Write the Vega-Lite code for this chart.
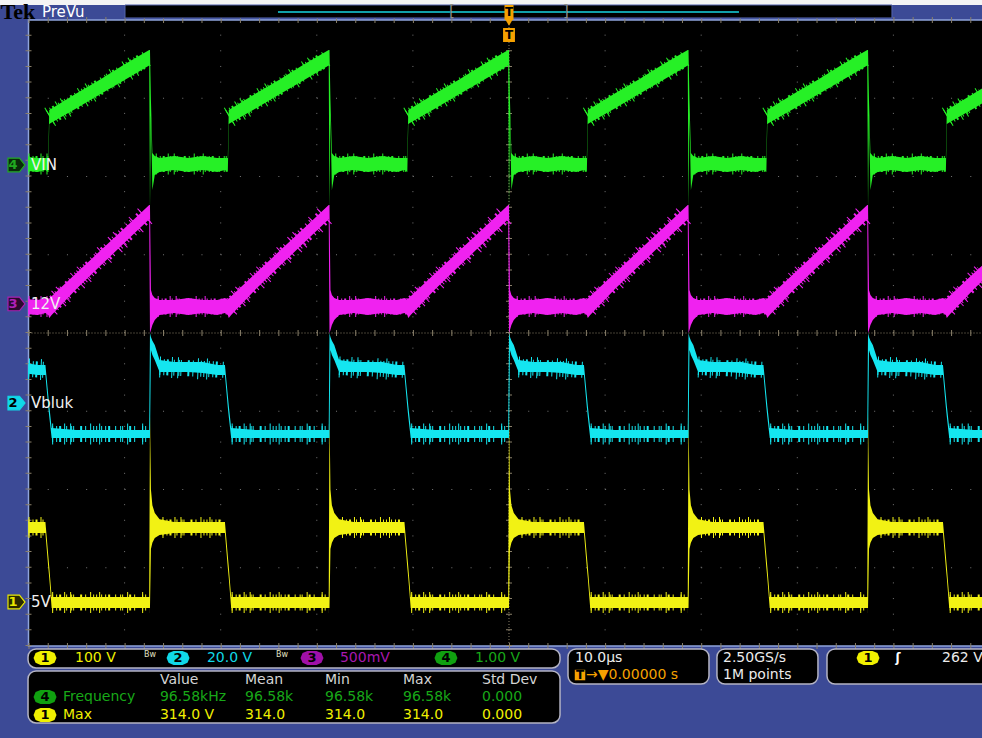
{
"$schema":"https://vega.github.io/schema/vega-lite/v6.json",
"width":982,"height":738,
"autosize":"none",
"padding":0,
"background":"#3c4a96",
"config":{"view":{"stroke":null},"font":"DejaVu Sans"},
"resolve":{"scale":{"color":"independent","fill":"independent","stroke":"independent"}},
"datasets":{
"tr":[
{"x":-50,"gl":2.07,"gh":2.25,"ml":0.24,"mh":0.43,"cl":-0.52,"ch":-0.39,"yl":-2.556,"yh":-2.415},
{"x":-49.04,"gl":2.058,"gh":2.236,"ml":0.23,"mh":0.422,"cl":-0.537,"ch":-0.409,"yl":-2.556,"yh":-2.415},
{"x":-48.24,"gl":2.083,"gh":2.236,"ml":0.256,"mh":0.447,"cl":-0.537,"ch":-0.409,"yl":-2.556,"yh":-2.415},
{"x":-47.94,"gl":2.058,"gh":2.236,"ml":0.23,"mh":0.422,"cl":-0.95,"ch":-0.8,"yl":-3,"yh":-2.85},
{"x":-47.84,"gl":2.67,"gh":2.85,"ml":0.192,"mh":0.44,"cl":-1.07,"ch":-0.93,"yl":-3.13,"yh":-2.99},
{"x":-47.59,"gl":2.69,"gh":2.87,"ml":0.23,"mh":0.469,"cl":-1.342,"ch":-1.214,"yl":-3.514,"yh":-3.374},
{"x":-45.04,"gl":2.87,"gh":3.06,"ml":0.56,"mh":0.762,"cl":-1.342,"ch":-1.24,"yl":-3.514,"yh":-3.374},
{"x":-42.54,"gl":3.05,"gh":3.24,"ml":0.855,"mh":1.05,"cl":-1.342,"ch":-1.24,"yl":-3.514,"yh":-3.374},
{"x":-40.04,"gl":3.23,"gh":3.43,"ml":1.15,"mh":1.337,"cl":-1.342,"ch":-1.24,"yl":-3.514,"yh":-3.374},
{"x":-37.44,"gl":3.42,"gh":3.617,"ml":1.455,"mh":1.636,"cl":-1.342,"ch":-1.24,"yl":-3.514,"yh":-3.374},
{"x":-37.36,"gl":1.572,"gh":3.617,"ml":0,"mh":1.636,"cl":-1.342,"ch":0,"yl":-3.514,"yh":-1.022},
{"x":-37.26,"gl":2.786,"gh":2.978,"ml":0.038,"mh":0.55,"cl":-0.217,"ch":-0.051,"yl":-2.76,"yh":-2.0},
{"x":-37.11,"gl":1.827,"gh":2.3,"ml":0.102,"mh":0.486,"cl":-0.281,"ch":-0.1,"yl":-2.68,"yh":-2.2},
{"x":-36.86,"gl":2.019,"gh":2.262,"ml":0.166,"mh":0.447,"cl":-0.345,"ch":-0.153,"yl":-2.62,"yh":-2.3},
{"x":-36.36,"gl":2.058,"gh":2.236,"ml":0.23,"mh":0.422,"cl":-0.498,"ch":-0.345,"yl":-2.581,"yh":-2.38},
{"x":-34.86,"gl":2.083,"gh":2.262,"ml":0.256,"mh":0.422,"cl":-0.498,"ch":-0.371,"yl":-2.556,"yh":-2.415},
{"x":-33.36,"gl":2.058,"gh":2.236,"ml":0.23,"mh":0.447,"cl":-0.498,"ch":-0.371,"yl":-2.556,"yh":-2.415},
{"x":-31.86,"gl":2.083,"gh":2.262,"ml":0.256,"mh":0.422,"cl":-0.511,"ch":-0.371,"yl":-2.556,"yh":-2.415},
{"x":-30.36,"gl":2.058,"gh":2.236,"ml":0.23,"mh":0.422,"cl":-0.537,"ch":-0.409,"yl":-2.556,"yh":-2.415},
{"x":-29.56,"gl":2.083,"gh":2.236,"ml":0.256,"mh":0.447,"cl":-0.537,"ch":-0.409,"yl":-2.556,"yh":-2.415},
{"x":-29.26,"gl":2.058,"gh":2.236,"ml":0.23,"mh":0.422,"cl":-0.95,"ch":-0.8,"yl":-3,"yh":-2.85},
{"x":-29.16,"gl":2.67,"gh":2.85,"ml":0.192,"mh":0.44,"cl":-1.07,"ch":-0.93,"yl":-3.13,"yh":-2.99},
{"x":-28.91,"gl":2.69,"gh":2.87,"ml":0.23,"mh":0.469,"cl":-1.342,"ch":-1.214,"yl":-3.514,"yh":-3.374},
{"x":-26.36,"gl":2.87,"gh":3.06,"ml":0.56,"mh":0.762,"cl":-1.342,"ch":-1.24,"yl":-3.514,"yh":-3.374},
{"x":-23.86,"gl":3.05,"gh":3.24,"ml":0.855,"mh":1.05,"cl":-1.342,"ch":-1.24,"yl":-3.514,"yh":-3.374},
{"x":-21.36,"gl":3.23,"gh":3.43,"ml":1.15,"mh":1.337,"cl":-1.342,"ch":-1.24,"yl":-3.514,"yh":-3.374},
{"x":-18.76,"gl":3.42,"gh":3.617,"ml":1.455,"mh":1.636,"cl":-1.342,"ch":-1.24,"yl":-3.514,"yh":-3.374},
{"x":-18.68,"gl":1.572,"gh":3.617,"ml":0,"mh":1.636,"cl":-1.342,"ch":0,"yl":-3.514,"yh":-1.022},
{"x":-18.58,"gl":2.786,"gh":2.978,"ml":0.038,"mh":0.55,"cl":-0.217,"ch":-0.051,"yl":-2.76,"yh":-2.0},
{"x":-18.43,"gl":1.827,"gh":2.3,"ml":0.102,"mh":0.486,"cl":-0.281,"ch":-0.1,"yl":-2.68,"yh":-2.2},
{"x":-18.18,"gl":2.019,"gh":2.262,"ml":0.166,"mh":0.447,"cl":-0.345,"ch":-0.153,"yl":-2.62,"yh":-2.3},
{"x":-17.68,"gl":2.058,"gh":2.236,"ml":0.23,"mh":0.422,"cl":-0.498,"ch":-0.345,"yl":-2.581,"yh":-2.38},
{"x":-16.18,"gl":2.083,"gh":2.262,"ml":0.256,"mh":0.422,"cl":-0.498,"ch":-0.371,"yl":-2.556,"yh":-2.415},
{"x":-14.68,"gl":2.058,"gh":2.236,"ml":0.23,"mh":0.447,"cl":-0.498,"ch":-0.371,"yl":-2.556,"yh":-2.415},
{"x":-13.18,"gl":2.083,"gh":2.262,"ml":0.256,"mh":0.422,"cl":-0.511,"ch":-0.371,"yl":-2.556,"yh":-2.415},
{"x":-11.68,"gl":2.058,"gh":2.236,"ml":0.23,"mh":0.422,"cl":-0.537,"ch":-0.409,"yl":-2.556,"yh":-2.415},
{"x":-10.88,"gl":2.083,"gh":2.236,"ml":0.256,"mh":0.447,"cl":-0.537,"ch":-0.409,"yl":-2.556,"yh":-2.415},
{"x":-10.58,"gl":2.058,"gh":2.236,"ml":0.23,"mh":0.422,"cl":-0.95,"ch":-0.8,"yl":-3,"yh":-2.85},
{"x":-10.48,"gl":2.67,"gh":2.85,"ml":0.192,"mh":0.44,"cl":-1.07,"ch":-0.93,"yl":-3.13,"yh":-2.99},
{"x":-10.23,"gl":2.69,"gh":2.87,"ml":0.23,"mh":0.469,"cl":-1.342,"ch":-1.214,"yl":-3.514,"yh":-3.374},
{"x":-7.68,"gl":2.87,"gh":3.06,"ml":0.56,"mh":0.762,"cl":-1.342,"ch":-1.24,"yl":-3.514,"yh":-3.374},
{"x":-5.18,"gl":3.05,"gh":3.24,"ml":0.855,"mh":1.05,"cl":-1.342,"ch":-1.24,"yl":-3.514,"yh":-3.374},
{"x":-2.68,"gl":3.23,"gh":3.43,"ml":1.15,"mh":1.337,"cl":-1.342,"ch":-1.24,"yl":-3.514,"yh":-3.374},
{"x":-0.08,"gl":3.42,"gh":3.617,"ml":1.455,"mh":1.636,"cl":-1.342,"ch":-1.24,"yl":-3.514,"yh":-3.374},
{"x":0,"gl":1.572,"gh":3.617,"ml":0,"mh":1.636,"cl":-1.342,"ch":0,"yl":-3.514,"yh":-1.022},
{"x":0.1,"gl":2.786,"gh":2.978,"ml":0.038,"mh":0.55,"cl":-0.217,"ch":-0.051,"yl":-2.76,"yh":-2.0},
{"x":0.25,"gl":1.827,"gh":2.3,"ml":0.102,"mh":0.486,"cl":-0.281,"ch":-0.1,"yl":-2.68,"yh":-2.2},
{"x":0.5,"gl":2.019,"gh":2.262,"ml":0.166,"mh":0.447,"cl":-0.345,"ch":-0.153,"yl":-2.62,"yh":-2.3},
{"x":1,"gl":2.058,"gh":2.236,"ml":0.23,"mh":0.422,"cl":-0.498,"ch":-0.345,"yl":-2.581,"yh":-2.38},
{"x":2.5,"gl":2.083,"gh":2.262,"ml":0.256,"mh":0.422,"cl":-0.498,"ch":-0.371,"yl":-2.556,"yh":-2.415},
{"x":4,"gl":2.058,"gh":2.236,"ml":0.23,"mh":0.447,"cl":-0.498,"ch":-0.371,"yl":-2.556,"yh":-2.415},
{"x":5.5,"gl":2.083,"gh":2.262,"ml":0.256,"mh":0.422,"cl":-0.511,"ch":-0.371,"yl":-2.556,"yh":-2.415},
{"x":7,"gl":2.058,"gh":2.236,"ml":0.23,"mh":0.422,"cl":-0.537,"ch":-0.409,"yl":-2.556,"yh":-2.415},
{"x":7.8,"gl":2.083,"gh":2.236,"ml":0.256,"mh":0.447,"cl":-0.537,"ch":-0.409,"yl":-2.556,"yh":-2.415},
{"x":8.1,"gl":2.058,"gh":2.236,"ml":0.23,"mh":0.422,"cl":-0.95,"ch":-0.8,"yl":-3,"yh":-2.85},
{"x":8.2,"gl":2.67,"gh":2.85,"ml":0.192,"mh":0.44,"cl":-1.07,"ch":-0.93,"yl":-3.13,"yh":-2.99},
{"x":8.45,"gl":2.69,"gh":2.87,"ml":0.23,"mh":0.469,"cl":-1.342,"ch":-1.214,"yl":-3.514,"yh":-3.374},
{"x":11,"gl":2.87,"gh":3.06,"ml":0.56,"mh":0.762,"cl":-1.342,"ch":-1.24,"yl":-3.514,"yh":-3.374},
{"x":13.5,"gl":3.05,"gh":3.24,"ml":0.855,"mh":1.05,"cl":-1.342,"ch":-1.24,"yl":-3.514,"yh":-3.374},
{"x":16,"gl":3.23,"gh":3.43,"ml":1.15,"mh":1.337,"cl":-1.342,"ch":-1.24,"yl":-3.514,"yh":-3.374},
{"x":18.6,"gl":3.42,"gh":3.617,"ml":1.455,"mh":1.636,"cl":-1.342,"ch":-1.24,"yl":-3.514,"yh":-3.374},
{"x":18.68,"gl":1.572,"gh":3.617,"ml":0,"mh":1.636,"cl":-1.342,"ch":0,"yl":-3.514,"yh":-1.022},
{"x":18.78,"gl":2.786,"gh":2.978,"ml":0.038,"mh":0.55,"cl":-0.217,"ch":-0.051,"yl":-2.76,"yh":-2.0},
{"x":18.93,"gl":1.827,"gh":2.3,"ml":0.102,"mh":0.486,"cl":-0.281,"ch":-0.1,"yl":-2.68,"yh":-2.2},
{"x":19.18,"gl":2.019,"gh":2.262,"ml":0.166,"mh":0.447,"cl":-0.345,"ch":-0.153,"yl":-2.62,"yh":-2.3},
{"x":19.68,"gl":2.058,"gh":2.236,"ml":0.23,"mh":0.422,"cl":-0.498,"ch":-0.345,"yl":-2.581,"yh":-2.38},
{"x":21.18,"gl":2.083,"gh":2.262,"ml":0.256,"mh":0.422,"cl":-0.498,"ch":-0.371,"yl":-2.556,"yh":-2.415},
{"x":22.68,"gl":2.058,"gh":2.236,"ml":0.23,"mh":0.447,"cl":-0.498,"ch":-0.371,"yl":-2.556,"yh":-2.415},
{"x":24.18,"gl":2.083,"gh":2.262,"ml":0.256,"mh":0.422,"cl":-0.511,"ch":-0.371,"yl":-2.556,"yh":-2.415},
{"x":25.68,"gl":2.058,"gh":2.236,"ml":0.23,"mh":0.422,"cl":-0.537,"ch":-0.409,"yl":-2.556,"yh":-2.415},
{"x":26.48,"gl":2.083,"gh":2.236,"ml":0.256,"mh":0.447,"cl":-0.537,"ch":-0.409,"yl":-2.556,"yh":-2.415},
{"x":26.78,"gl":2.058,"gh":2.236,"ml":0.23,"mh":0.422,"cl":-0.95,"ch":-0.8,"yl":-3,"yh":-2.85},
{"x":26.88,"gl":2.67,"gh":2.85,"ml":0.192,"mh":0.44,"cl":-1.07,"ch":-0.93,"yl":-3.13,"yh":-2.99},
{"x":27.13,"gl":2.69,"gh":2.87,"ml":0.23,"mh":0.469,"cl":-1.342,"ch":-1.214,"yl":-3.514,"yh":-3.374},
{"x":29.68,"gl":2.87,"gh":3.06,"ml":0.56,"mh":0.762,"cl":-1.342,"ch":-1.24,"yl":-3.514,"yh":-3.374},
{"x":32.18,"gl":3.05,"gh":3.24,"ml":0.855,"mh":1.05,"cl":-1.342,"ch":-1.24,"yl":-3.514,"yh":-3.374},
{"x":34.68,"gl":3.23,"gh":3.43,"ml":1.15,"mh":1.337,"cl":-1.342,"ch":-1.24,"yl":-3.514,"yh":-3.374},
{"x":37.28,"gl":3.42,"gh":3.617,"ml":1.455,"mh":1.636,"cl":-1.342,"ch":-1.24,"yl":-3.514,"yh":-3.374},
{"x":37.36,"gl":1.572,"gh":3.617,"ml":0,"mh":1.636,"cl":-1.342,"ch":0,"yl":-3.514,"yh":-1.022},
{"x":37.46,"gl":2.786,"gh":2.978,"ml":0.038,"mh":0.55,"cl":-0.217,"ch":-0.051,"yl":-2.76,"yh":-2.0},
{"x":37.61,"gl":1.827,"gh":2.3,"ml":0.102,"mh":0.486,"cl":-0.281,"ch":-0.1,"yl":-2.68,"yh":-2.2},
{"x":37.86,"gl":2.019,"gh":2.262,"ml":0.166,"mh":0.447,"cl":-0.345,"ch":-0.153,"yl":-2.62,"yh":-2.3},
{"x":38.36,"gl":2.058,"gh":2.236,"ml":0.23,"mh":0.422,"cl":-0.498,"ch":-0.345,"yl":-2.581,"yh":-2.38},
{"x":39.86,"gl":2.083,"gh":2.262,"ml":0.256,"mh":0.422,"cl":-0.498,"ch":-0.371,"yl":-2.556,"yh":-2.415},
{"x":41.36,"gl":2.058,"gh":2.236,"ml":0.23,"mh":0.447,"cl":-0.498,"ch":-0.371,"yl":-2.556,"yh":-2.415},
{"x":42.86,"gl":2.083,"gh":2.262,"ml":0.256,"mh":0.422,"cl":-0.511,"ch":-0.371,"yl":-2.556,"yh":-2.415},
{"x":44.36,"gl":2.058,"gh":2.236,"ml":0.23,"mh":0.422,"cl":-0.537,"ch":-0.409,"yl":-2.556,"yh":-2.415},
{"x":45.16,"gl":2.083,"gh":2.236,"ml":0.256,"mh":0.447,"cl":-0.537,"ch":-0.409,"yl":-2.556,"yh":-2.415},
{"x":45.46,"gl":2.058,"gh":2.236,"ml":0.23,"mh":0.422,"cl":-0.95,"ch":-0.8,"yl":-3,"yh":-2.85},
{"x":45.56,"gl":2.67,"gh":2.85,"ml":0.192,"mh":0.44,"cl":-1.07,"ch":-0.93,"yl":-3.13,"yh":-2.99},
{"x":45.81,"gl":2.69,"gh":2.87,"ml":0.23,"mh":0.469,"cl":-1.342,"ch":-1.214,"yl":-3.514,"yh":-3.374},
{"x":48.36,"gl":2.87,"gh":3.06,"ml":0.56,"mh":0.762,"cl":-1.342,"ch":-1.24,"yl":-3.514,"yh":-3.374},
{"x":49.3,"gl":2.94,"gh":3.129,"ml":0.67,"mh":0.87,"cl":-1.342,"ch":-1.24,"yl":-3.514,"yh":-3.374}
],
"nz":[
{"c":"g","s":"g0f","x":-50,"y":2.16},{"c":"g","s":"g0f","x":-47.94,"y":2.16},
{"c":"g","s":"g0r","x":-47.79,"y":2.76},{"c":"g","s":"g0r","x":-37.49,"y":3.52},
{"c":"m","s":"m0f","x":-50,"y":0.34},{"c":"m","s":"m0f","x":-47.84,"y":0.34},
{"c":"m","s":"m0r","x":-47.79,"y":0.33},{"c":"m","s":"m0r","x":-37.49,"y":1.54},
{"c":"c","s":"c0h","x":-50,"y":-0.46},{"c":"c","s":"c0h","x":-48.29,"y":-0.47},
{"c":"c","s":"c0l","x":-47.54,"y":-1.29},{"c":"c","s":"c0l","x":-37.44,"y":-1.29},
{"c":"y","s":"y0h","x":-50,"y":-2.485},{"c":"y","s":"y0h","x":-48.29,"y":-2.485},
{"c":"y","s":"y0l","x":-47.54,"y":-3.444},{"c":"y","s":"y0l","x":-37.44,"y":-3.444},
{"c":"g","s":"g1f","x":-36.76,"y":2.16},{"c":"g","s":"g1f","x":-29.26,"y":2.16},
{"c":"g","s":"g1r","x":-29.11,"y":2.76},{"c":"g","s":"g1r","x":-18.81,"y":3.52},
{"c":"m","s":"m1f","x":-36.56,"y":0.34},{"c":"m","s":"m1f","x":-29.16,"y":0.34},
{"c":"m","s":"m1r","x":-29.11,"y":0.33},{"c":"m","s":"m1r","x":-18.81,"y":1.54},
{"c":"c","s":"c1h","x":-36.36,"y":-0.435},{"c":"c","s":"c1h","x":-29.61,"y":-0.47},
{"c":"c","s":"c1l","x":-28.86,"y":-1.29},{"c":"c","s":"c1l","x":-18.76,"y":-1.29},
{"c":"y","s":"y1h","x":-36.06,"y":-2.485},{"c":"y","s":"y1h","x":-29.61,"y":-2.485},
{"c":"y","s":"y1l","x":-28.86,"y":-3.444},{"c":"y","s":"y1l","x":-18.76,"y":-3.444},
{"c":"g","s":"g2f","x":-18.08,"y":2.16},{"c":"g","s":"g2f","x":-10.58,"y":2.16},
{"c":"g","s":"g2r","x":-10.43,"y":2.76},{"c":"g","s":"g2r","x":-0.13,"y":3.52},
{"c":"m","s":"m2f","x":-17.88,"y":0.34},{"c":"m","s":"m2f","x":-10.48,"y":0.34},
{"c":"m","s":"m2r","x":-10.43,"y":0.33},{"c":"m","s":"m2r","x":-0.13,"y":1.54},
{"c":"c","s":"c2h","x":-17.68,"y":-0.435},{"c":"c","s":"c2h","x":-10.93,"y":-0.47},
{"c":"c","s":"c2l","x":-10.18,"y":-1.29},{"c":"c","s":"c2l","x":-0.08,"y":-1.29},
{"c":"y","s":"y2h","x":-17.38,"y":-2.485},{"c":"y","s":"y2h","x":-10.93,"y":-2.485},
{"c":"y","s":"y2l","x":-10.18,"y":-3.444},{"c":"y","s":"y2l","x":-0.08,"y":-3.444},
{"c":"g","s":"g3f","x":0.6,"y":2.16},{"c":"g","s":"g3f","x":8.1,"y":2.16},
{"c":"g","s":"g3r","x":8.25,"y":2.76},{"c":"g","s":"g3r","x":18.55,"y":3.52},
{"c":"m","s":"m3f","x":0.8,"y":0.34},{"c":"m","s":"m3f","x":8.2,"y":0.34},
{"c":"m","s":"m3r","x":8.25,"y":0.33},{"c":"m","s":"m3r","x":18.55,"y":1.54},
{"c":"c","s":"c3h","x":1.0,"y":-0.435},{"c":"c","s":"c3h","x":7.75,"y":-0.47},
{"c":"c","s":"c3l","x":8.5,"y":-1.29},{"c":"c","s":"c3l","x":18.6,"y":-1.29},
{"c":"y","s":"y3h","x":1.3,"y":-2.485},{"c":"y","s":"y3h","x":7.75,"y":-2.485},
{"c":"y","s":"y3l","x":8.5,"y":-3.444},{"c":"y","s":"y3l","x":18.6,"y":-3.444},
{"c":"g","s":"g4f","x":19.28,"y":2.16},{"c":"g","s":"g4f","x":26.78,"y":2.16},
{"c":"g","s":"g4r","x":26.93,"y":2.76},{"c":"g","s":"g4r","x":37.23,"y":3.52},
{"c":"m","s":"m4f","x":19.48,"y":0.34},{"c":"m","s":"m4f","x":26.88,"y":0.34},
{"c":"m","s":"m4r","x":26.93,"y":0.33},{"c":"m","s":"m4r","x":37.23,"y":1.54},
{"c":"c","s":"c4h","x":19.68,"y":-0.435},{"c":"c","s":"c4h","x":26.43,"y":-0.47},
{"c":"c","s":"c4l","x":27.18,"y":-1.29},{"c":"c","s":"c4l","x":37.28,"y":-1.29},
{"c":"y","s":"y4h","x":19.98,"y":-2.485},{"c":"y","s":"y4h","x":26.43,"y":-2.485},
{"c":"y","s":"y4l","x":27.18,"y":-3.444},{"c":"y","s":"y4l","x":37.28,"y":-3.444},
{"c":"g","s":"g5f","x":37.96,"y":2.16},{"c":"g","s":"g5f","x":45.46,"y":2.16},
{"c":"g","s":"g5r","x":45.61,"y":2.76},{"c":"g","s":"g5r","x":49.3,"y":3.03},
{"c":"m","s":"m5f","x":38.16,"y":0.34},{"c":"m","s":"m5f","x":45.56,"y":0.34},
{"c":"m","s":"m5r","x":45.61,"y":0.33},{"c":"m","s":"m5r","x":49.3,"y":0.77},
{"c":"c","s":"c5h","x":38.36,"y":-0.435},{"c":"c","s":"c5h","x":45.11,"y":-0.47},
{"c":"c","s":"c5l","x":45.86,"y":-1.29},{"c":"c","s":"c5l","x":49.3,"y":-1.29},
{"c":"y","s":"y5h","x":38.66,"y":-2.485},{"c":"y","s":"y5h","x":45.11,"y":-2.485},
{"c":"y","s":"y5l","x":45.86,"y":-3.444},{"c":"y","s":"y5l","x":49.3,"y":-3.444}
]
},
"layer":[
{"data":{"values":[{"x":-50,"xe":50,"y":-4,"ye":4}]},
 "mark":{"type":"rect","fill":"#000000","stroke":"#8ea4dc","strokeWidth":1.5},
 "encoding":{"x":{"field":"x","type":"quantitative","scale":{"domain":[-52.966,49.22],"nice":false,"zero":false},"axis":null},"x2":{"field":"xe"},
  "y":{"field":"y","type":"quantitative","scale":{"domain":[-5.1757,4.2556],"nice":false,"zero":false},"axis":null},"y2":{"field":"ye"}}},
{"data":{"values":[{"x":-40,"y":-4,"ye":4},{"x":-30,"y":-4,"ye":4},{"x":-20,"y":-4,"ye":4},{"x":-10,"y":-4,"ye":4},{"x":10,"y":-4,"ye":4},{"x":20,"y":-4,"ye":4},{"x":30,"y":-4,"ye":4},{"x":40,"y":-4,"ye":4}]},
 "mark":{"type":"rule","color":"#767676","strokeWidth":1,"strokeDash":[1,14.65]},
 "encoding":{"x":{"field":"x","type":"quantitative","scale":{"domain":[-52.966,49.22],"nice":false,"zero":false},"axis":null},
  "y":{"field":"y","type":"quantitative","scale":{"domain":[-5.1757,4.2556],"nice":false,"zero":false},"axis":null},"y2":{"field":"ye"}}},
{"data":{"values":[{"y":-3,"x":-50,"xe":50},{"y":-2,"x":-50,"xe":50},{"y":-1,"x":-50,"xe":50},{"y":1,"x":-50,"xe":50},{"y":2,"x":-50,"xe":50},{"y":3,"x":-50,"xe":50}]},
 "mark":{"type":"rule","color":"#767676","strokeWidth":1,"strokeDash":[1,18.22]},
 "encoding":{"x":{"field":"x","type":"quantitative","scale":{"domain":[-52.966,49.22],"nice":false,"zero":false},"axis":null},"x2":{"field":"xe"},
  "y":{"field":"y","type":"quantitative","scale":{"domain":[-5.1757,4.2556],"nice":false,"zero":false},"axis":null}}},
{"data":{"values":[{"y":0,"x":-50,"xe":50}]},
 "mark":{"type":"rule","color":"#8a806a","strokeWidth":1,"strokeDash":[1,2]},
 "encoding":{"x":{"field":"x","type":"quantitative","scale":{"domain":[-52.966,49.22],"nice":false,"zero":false},"axis":null},"x2":{"field":"xe"},
  "y":{"field":"y","type":"quantitative","scale":{"domain":[-5.1757,4.2556],"nice":false,"zero":false},"axis":null}}},
{"data":{"values":[{"y":0,"x":-50,"xe":50},{"y":4,"x":-50,"xe":50},{"y":-4,"x":-50,"xe":50}]},
 "mark":{"type":"rule","color":"#8a806a","strokeWidth":6,"strokeDash":[1,18.22]},
 "encoding":{"x":{"field":"x","type":"quantitative","scale":{"domain":[-52.966,49.22],"nice":false,"zero":false},"axis":null},"x2":{"field":"xe"},
  "y":{"field":"y","type":"quantitative","scale":{"domain":[-5.1757,4.2556],"nice":false,"zero":false},"axis":null}}},
{"data":{"values":[{"x":0,"y":-4,"ye":4}]},
 "mark":{"type":"rule","color":"#8a806a","strokeWidth":1,"strokeDash":[1,2]},
 "encoding":{"x":{"field":"x","type":"quantitative","scale":{"domain":[-52.966,49.22],"nice":false,"zero":false},"axis":null},
  "y":{"field":"y","type":"quantitative","scale":{"domain":[-5.1757,4.2556],"nice":false,"zero":false},"axis":null},"y2":{"field":"ye"}}},
{"data":{"values":[{"x":0,"y":-4,"ye":4},{"x":-50,"y":-4,"ye":4}]},
 "mark":{"type":"rule","color":"#8a806a","strokeWidth":6,"strokeDash":[1,14.65]},
 "encoding":{"x":{"field":"x","type":"quantitative","scale":{"domain":[-52.966,49.22],"nice":false,"zero":false},"axis":null},
  "y":{"field":"y","type":"quantitative","scale":{"domain":[-5.1757,4.2556],"nice":false,"zero":false},"axis":null},"y2":{"field":"ye"}}},
{"data":{"name":"nz"},"mark":{"type":"line","strokeWidth":21,"strokeCap":"butt","strokeDash":[1,11,1,5,1,19,1,8,1,27,1,14,1,6,1,21],"opacity":1},
 "encoding":{"x":{"field":"x","type":"quantitative","scale":{"domain":[-52.966,49.22],"nice":false,"zero":false},"axis":null},
  "y":{"field":"y","type":"quantitative","scale":{"domain":[-5.1757,4.2556],"nice":false,"zero":false},"axis":null},
  "detail":{"field":"s"},
  "color":{"field":"c","type":"nominal","scale":{"domain":["g","m","c","y"],"range":["#26f026","#f022f0","#14e6f0","#f2f214"]},"legend":null}}},
{"data":{"name":"nz"},"mark":{"type":"line","strokeWidth":16,"strokeCap":"butt","strokeDash":[1,3,1,2,2,5,1,4,1,1,1,6,2,3,1,7,1,2,1,4],"opacity":1},
 "encoding":{"x":{"field":"x","type":"quantitative","scale":{"domain":[-52.966,49.22],"nice":false,"zero":false},"axis":null},
  "y":{"field":"y","type":"quantitative","scale":{"domain":[-5.1757,4.2556],"nice":false,"zero":false},"axis":null},
  "detail":{"field":"s"},
  "color":{"field":"c","type":"nominal","scale":{"domain":["g","m","c","y"],"range":["#26f026","#f022f0","#14e6f0","#f2f214"]},"legend":null}}},
{"data":{"name":"tr"},"mark":{"type":"area","color":"#f2f214","opacity":1},
 "encoding":{"x":{"field":"x","type":"quantitative","scale":{"domain":[-52.966,49.22],"nice":false,"zero":false},"axis":null},
  "y":{"field":"yh","type":"quantitative","scale":{"domain":[-5.1757,4.2556],"nice":false,"zero":false},"axis":null},"y2":{"field":"yl"}}},
{"data":{"name":"tr"},"mark":{"type":"area","color":"#14e6f0","opacity":1},
 "encoding":{"x":{"field":"x","type":"quantitative","scale":{"domain":[-52.966,49.22],"nice":false,"zero":false},"axis":null},
  "y":{"field":"ch","type":"quantitative","scale":{"domain":[-5.1757,4.2556],"nice":false,"zero":false},"axis":null},"y2":{"field":"cl"}}},
{"data":{"name":"tr"},"mark":{"type":"area","color":"#26f026","opacity":1},
 "encoding":{"x":{"field":"x","type":"quantitative","scale":{"domain":[-52.966,49.22],"nice":false,"zero":false},"axis":null},
  "y":{"field":"gh","type":"quantitative","scale":{"domain":[-5.1757,4.2556],"nice":false,"zero":false},"axis":null},"y2":{"field":"gl"}}},
{"data":{"name":"tr"},"mark":{"type":"area","color":"#f022f0","opacity":1},
 "encoding":{"x":{"field":"x","type":"quantitative","scale":{"domain":[-52.966,49.22],"nice":false,"zero":false},"axis":null},
  "y":{"field":"mh","type":"quantitative","scale":{"domain":[-5.1757,4.2556],"nice":false,"zero":false},"axis":null},"y2":{"field":"ml"}}},
{"data":{"values":[{"x":-51.25,"y":2.147,"k":"4"},{"x":-51.25,"y":0.371,"k":"3"},{"x":-51.25,"y":-0.895,"k":"2"},{"x":-51.25,"y":-3.438,"k":"1"}]},
 "mark":{"type":"point","shape":"M -1 -0.8 L 0.35 -0.8 L 1 0 L 0.35 0.8 L -1 0.8 Z","size":289,"filled":true,"opacity":1,"strokeWidth":1.2,"strokeOpacity":1},
 "encoding":{"x":{"field":"x","type":"quantitative","scale":{"domain":[-52.966,49.22],"nice":false,"zero":false},"axis":null},
  "y":{"field":"y","type":"quantitative","scale":{"domain":[-5.1757,4.2556],"nice":false,"zero":false},"axis":null},
  "fill":{"field":"k","type":"nominal","scale":{"domain":["1","2","3","4"],"range":["#2a2a00","#10d8e8","#2c0a2e","#0a2a0a"]},"legend":null},
  "stroke":{"field":"k","type":"nominal","scale":{"domain":["1","2","3","4"],"range":["#e8e800","#10d8e8","#a820b0","#20a820"]},"legend":null}}},
{"data":{"values":[{"x":-51.6,"y":2.147,"k":"4"},{"x":-51.6,"y":0.371,"k":"3"},{"x":-51.6,"y":-0.895,"k":"2"},{"x":-51.6,"y":-3.438,"k":"1"}]},
 "mark":{"type":"text","fontSize":13,"fontWeight":"bold","align":"center","baseline":"middle"},
 "encoding":{"x":{"field":"x","type":"quantitative","scale":{"domain":[-52.966,49.22],"nice":false,"zero":false},"axis":null},
  "y":{"field":"y","type":"quantitative","scale":{"domain":[-5.1757,4.2556],"nice":false,"zero":false},"axis":null},
  "text":{"field":"k"},
  "color":{"field":"k","type":"nominal","scale":{"domain":["1","2","3","4"],"range":["#e8e800","#000000","#b020b8","#20a820"]},"legend":null}}},
{"data":{"values":[{"x":-49.74,"y":2.147,"s":"VIN"},{"x":-49.74,"y":0.371,"s":"12V"},{"x":-49.74,"y":-0.895,"s":"Vbluk"},{"x":-49.74,"y":-3.438,"s":"5V"}]},
 "mark":{"type":"text","fontSize":15,"align":"left","baseline":"middle","color":"#f0f0f0"},
 "encoding":{"x":{"field":"x","type":"quantitative","scale":{"domain":[-52.966,49.22],"nice":false,"zero":false},"axis":null},
  "y":{"field":"y","type":"quantitative","scale":{"domain":[-5.1757,4.2556],"nice":false,"zero":false},"axis":null},"text":{"field":"s"}}},
{"data":{"values":[{"x":-53,"xe":50,"y":4.192,"ye":4.26}]},
 "mark":{"type":"rect","fill":"#f4f4f4"},
 "encoding":{"x":{"field":"x","type":"quantitative","scale":{"domain":[-52.966,49.22],"nice":false,"zero":false},"axis":null},"x2":{"field":"xe"},
  "y":{"field":"y","type":"quantitative","scale":{"domain":[-5.1757,4.2556],"nice":false,"zero":false},"axis":null},"y2":{"field":"ye"}}},
{"data":{"values":[{"x":-39.96,"xe":39.85,"y":4.026,"ye":4.192}]},
 "mark":{"type":"rect","fill":"#000000","stroke":"#5565b0","strokeWidth":1},
 "encoding":{"x":{"field":"x","type":"quantitative","scale":{"domain":[-52.966,49.22],"nice":false,"zero":false},"axis":null},"x2":{"field":"xe"},
  "y":{"field":"y","type":"quantitative","scale":{"domain":[-5.1757,4.2556],"nice":false,"zero":false},"axis":null},"y2":{"field":"ye"}}},
{"data":{"values":[{"x":-24.04,"xe":23.93,"y":4.102}]},
 "mark":{"type":"rule","color":"#10a0a8","strokeWidth":2},
 "encoding":{"x":{"field":"x","type":"quantitative","scale":{"domain":[-52.966,49.22],"nice":false,"zero":false},"axis":null},"x2":{"field":"xe"},
  "y":{"field":"y","type":"quantitative","scale":{"domain":[-5.1757,4.2556],"nice":false,"zero":false},"axis":null}}},
{"data":{"values":[{"x":-5.93,"y":4.11,"s":"["},{"x":5.93,"y":4.11,"s":"]"}]},
 "mark":{"type":"text","fontSize":15,"align":"center","baseline":"middle","color":"#8c8c8c"},
 "encoding":{"x":{"field":"x","type":"quantitative","scale":{"domain":[-52.966,49.22],"nice":false,"zero":false},"axis":null},
  "y":{"field":"y","type":"quantitative","scale":{"domain":[-5.1757,4.2556],"nice":false,"zero":false},"axis":null},"text":{"field":"s"}}},
{"data":{"values":[{"x":0,"y":4.096}]},
 "mark":{"type":"point","shape":"M -0.6 -1 L 0.6 -1 L 0.6 1 L -0.6 1 Z","size":225,"filled":true,"color":"#f5a000","opacity":1},
 "encoding":{"x":{"field":"x","type":"quantitative","scale":{"domain":[-52.966,49.22],"nice":false,"zero":false},"axis":null},
  "y":{"field":"y","type":"quantitative","scale":{"domain":[-5.1757,4.2556],"nice":false,"zero":false},"axis":null}}},
{"data":{"values":[{"x":0,"y":3.968}]},
 "mark":{"type":"point","shape":"triangle-down","size":60,"filled":true,"color":"#f5a000","opacity":1},
 "encoding":{"x":{"field":"x","type":"quantitative","scale":{"domain":[-52.966,49.22],"nice":false,"zero":false},"axis":null},
  "y":{"field":"y","type":"quantitative","scale":{"domain":[-5.1757,4.2556],"nice":false,"zero":false},"axis":null}}},
{"data":{"values":[{"x":0,"y":3.808}]},
 "mark":{"type":"point","shape":"M -0.85 -1 L 0.85 -1 L 0.85 1 L -0.85 1 Z","size":196,"filled":true,"color":"#f5a000","opacity":1},
 "encoding":{"x":{"field":"x","type":"quantitative","scale":{"domain":[-52.966,49.22],"nice":false,"zero":false},"axis":null},
  "y":{"field":"y","type":"quantitative","scale":{"domain":[-5.1757,4.2556],"nice":false,"zero":false},"axis":null}}},
{"data":{"values":[{"x":0,"y":3.808,"s":"T"},{"x":0,"y":4.096,"s":"T"}]},
 "mark":{"type":"text","fontSize":12,"fontWeight":"bold","align":"center","baseline":"middle","color":"#000000"},
 "encoding":{"x":{"field":"x","type":"quantitative","scale":{"domain":[-52.966,49.22],"nice":false,"zero":false},"axis":null},
  "y":{"field":"y","type":"quantitative","scale":{"domain":[-5.1757,4.2556],"nice":false,"zero":false},"axis":null},"text":{"field":"s"}}},
{"data":{"values":[{"x":-52.9,"y":4.1,"s":"Tek"}]},
 "mark":{"type":"text","font":"Liberation Serif","fontSize":22,"fontWeight":"bold","align":"left","baseline":"middle","color":"#000000"},
 "encoding":{"x":{"field":"x","type":"quantitative","scale":{"domain":[-52.966,49.22],"nice":false,"zero":false},"axis":null},
  "y":{"field":"y","type":"quantitative","scale":{"domain":[-5.1757,4.2556],"nice":false,"zero":false},"axis":null},"text":{"field":"s"}}},
{"data":{"values":[{"x":-48.6,"y":4.102,"s":"PreVu"}]},
 "mark":{"type":"text","fontSize":15,"align":"left","baseline":"middle","color":"#ffffff"},
 "encoding":{"x":{"field":"x","type":"quantitative","scale":{"domain":[-52.966,49.22],"nice":false,"zero":false},"axis":null},
  "y":{"field":"y","type":"quantitative","scale":{"domain":[-5.1757,4.2556],"nice":false,"zero":false},"axis":null},"text":{"field":"s"}}},
{"data":{"values":[{"x":-50.05,"xe":5.31,"y":-4.038,"ye":-4.281},{"x":-50.05,"xe":5.31,"y":-4.319,"ye":-4.984},{"x":6.14,"xe":20.81,"y":-4.038,"ye":-4.486},{"x":21.64,"xe":32.15,"y":-4.038,"ye":-4.486},{"x":33.09,"xe":50,"y":-4.038,"ye":-4.486}]},
 "mark":{"type":"rect","fill":"#000000","stroke":"#b4b4c4","strokeWidth":1.5,"cornerRadius":8},
 "encoding":{"x":{"field":"x","type":"quantitative","scale":{"domain":[-52.966,49.22],"nice":false,"zero":false},"axis":null},"x2":{"field":"xe"},
  "y":{"field":"y","type":"quantitative","scale":{"domain":[-5.1757,4.2556],"nice":false,"zero":false},"axis":null},"y2":{"field":"ye"}}},
{"data":{"values":[{"x":-48.28,"y":-4.153,"k":"y","n":"1"},{"x":-34.44,"y":-4.153,"k":"c","n":"2"},{"x":-20.5,"y":-4.153,"k":"m","n":"3"},{"x":-6.56,"y":-4.153,"k":"g","n":"4"},{"x":-48.28,"y":-4.652,"k":"g","n":"4"},{"x":-48.28,"y":-4.882,"k":"y","n":"1"},{"x":37.36,"y":-4.153,"k":"y","n":"1"}]},
 "layer":[
  {"mark":{"type":"point","shape":"M -0.64 -1 L 0.64 -1 L 1.35 -0.7 L 1.64 0 L 1.35 0.7 L 0.64 1 L -0.64 1 L -1.35 0.7 L -1.64 0 L -1.35 -0.7 Z","size":196,"filled":true,"opacity":1},
   "encoding":{"x":{"field":"x","type":"quantitative","scale":{"domain":[-52.966,49.22],"nice":false,"zero":false},"axis":null},
    "y":{"field":"y","type":"quantitative","scale":{"domain":[-5.1757,4.2556],"nice":false,"zero":false},"axis":null},
    "fill":{"field":"k","type":"nominal","scale":{"domain":["y","c","m","g"],"range":["#f0f000","#10d8e8","#a010a8","#10a010"]},"legend":null}}},
  {"mark":{"type":"text","fontSize":13,"fontWeight":"bold","align":"center","baseline":"middle","color":"#000000"},
   "encoding":{"x":{"field":"x","type":"quantitative","scale":{"domain":[-52.966,49.22],"nice":false,"zero":false},"axis":null},
    "y":{"field":"y","type":"quantitative","scale":{"domain":[-5.1757,4.2556],"nice":false,"zero":false},"axis":null},"text":{"field":"n"}}}
 ]},
{"data":{"values":[
 {"x":-45.16,"y":-4.153,"s":"100 V","k":"y"},
 {"x":-31.43,"y":-4.153,"s":"20.0 V","k":"c"},
 {"x":-17.59,"y":-4.153,"s":"500mV","k":"m"},
 {"x":-3.54,"y":-4.153,"s":"1.00 V","k":"g"},
 {"x":6.87,"y":-4.153,"s":"10.0µs","k":"w"},
 {"x":22.27,"y":-4.153,"s":"2.50GS/s","k":"w"},
 {"x":45.06,"y":-4.153,"s":"262 V","k":"w"},
 {"x":8.01,"y":-4.371,"s":"→▼0.00000 s","k":"o"},
 {"x":22.27,"y":-4.371,"s":"1M points","k":"w"},
 {"x":-36.32,"y":-4.434,"s":"Value","k":"lg"},
 {"x":-27.47,"y":-4.434,"s":"Mean","k":"lg"},
 {"x":-19.15,"y":-4.434,"s":"Min","k":"lg"},
 {"x":-11.03,"y":-4.434,"s":"Max","k":"lg"},
 {"x":-2.81,"y":-4.434,"s":"Std Dev","k":"lg"},
 {"x":-46.41,"y":-4.652,"s":"Frequency","k":"g"},
 {"x":-36.32,"y":-4.652,"s":"96.58kHz","k":"g"},
 {"x":-27.47,"y":-4.652,"s":"96.58k","k":"g"},
 {"x":-19.15,"y":-4.652,"s":"96.58k","k":"g"},
 {"x":-11.03,"y":-4.652,"s":"96.58k","k":"g"},
 {"x":-2.81,"y":-4.652,"s":"0.000","k":"g"},
 {"x":-46.41,"y":-4.882,"s":"Max","k":"y"},
 {"x":-36.32,"y":-4.882,"s":"314.0 V","k":"y"},
 {"x":-27.47,"y":-4.882,"s":"314.0","k":"y"},
 {"x":-19.15,"y":-4.882,"s":"314.0","k":"y"},
 {"x":-11.03,"y":-4.882,"s":"314.0","k":"y"},
 {"x":-2.81,"y":-4.882,"s":"0.000","k":"y"}
 ]},
 "mark":{"type":"text","fontSize":14,"align":"left","baseline":"middle"},
 "encoding":{"x":{"field":"x","type":"quantitative","scale":{"domain":[-52.966,49.22],"nice":false,"zero":false},"axis":null},
  "y":{"field":"y","type":"quantitative","scale":{"domain":[-5.1757,4.2556],"nice":false,"zero":false},"axis":null},"text":{"field":"s"},
  "color":{"field":"k","type":"nominal","scale":{"domain":["y","c","m","g","w","lg","o"],"range":["#f0f000","#10d8e8","#a818b0","#18a818","#ececec","#d4d4d4","#f4a000"]},"legend":null}}},
{"data":{"values":[{"x":-37.36,"y":-4.12,"s":"Bw"},{"x":-23.62,"y":-4.12,"s":"Bw"}]},
 "mark":{"type":"text","fontSize":8,"align":"center","baseline":"middle","color":"#e0e0c0"},
 "encoding":{"x":{"field":"x","type":"quantitative","scale":{"domain":[-52.966,49.22],"nice":false,"zero":false},"axis":null},
  "y":{"field":"y","type":"quantitative","scale":{"domain":[-5.1757,4.2556],"nice":false,"zero":false},"axis":null},"text":{"field":"s"}}},
{"data":{"values":[{"x":7.39,"y":-4.371}]},
 "mark":{"type":"point","shape":"square","size":110,"filled":true,"color":"#f4a000","opacity":1},
 "encoding":{"x":{"field":"x","type":"quantitative","scale":{"domain":[-52.966,49.22],"nice":false,"zero":false},"axis":null},
  "y":{"field":"y","type":"quantitative","scale":{"domain":[-5.1757,4.2556],"nice":false,"zero":false},"axis":null}}},
{"data":{"values":[{"x":7.39,"y":-4.371,"s":"T","k":"b"},{"x":40.48,"y":-4.153,"s":"ʃ","k":"w"}]},
 "mark":{"type":"text","fontSize":12,"fontWeight":"bold","align":"center","baseline":"middle"},
 "encoding":{"x":{"field":"x","type":"quantitative","scale":{"domain":[-52.966,49.22],"nice":false,"zero":false},"axis":null},
  "y":{"field":"y","type":"quantitative","scale":{"domain":[-5.1757,4.2556],"nice":false,"zero":false},"axis":null},"text":{"field":"s"},
  "color":{"field":"k","type":"nominal","scale":{"domain":["b","w"],"range":["#000000","#ffffff"]},"legend":null}}}
]
}
